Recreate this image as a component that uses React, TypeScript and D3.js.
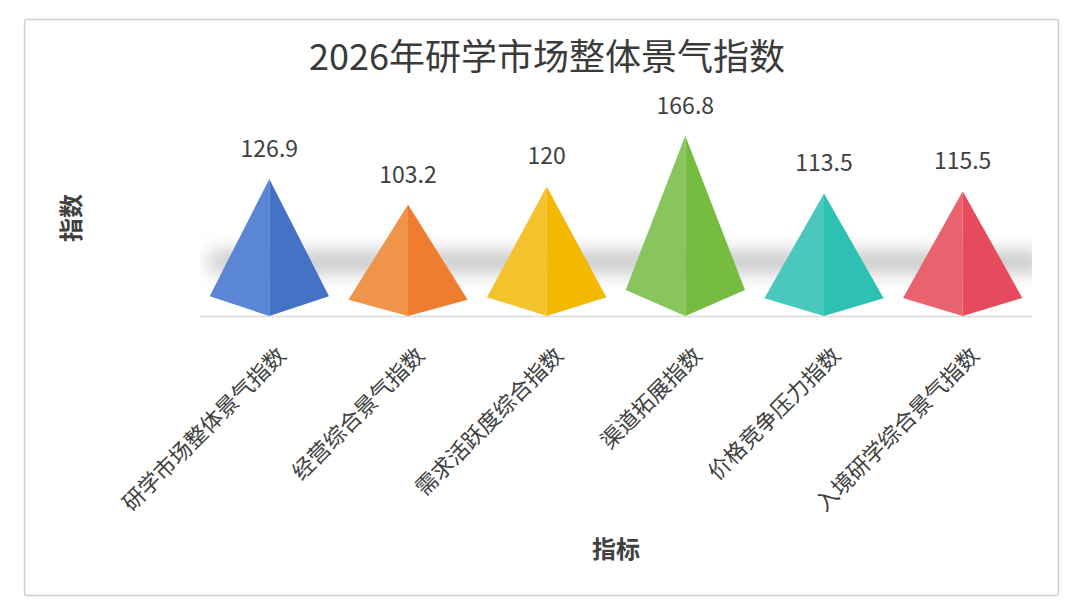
import React from 'react';
import * as d3 from 'd3';

const categories = ['研学市场整体景气指数', '经营综合景气指数', '需求活跃度综合指数', '渠道拓展指数', '价格竞争压力指数', '入境研学综合景气指数'];
const values = [126.9, 103.2, 120, 166.8, 113.5, 115.5];
const leftColors = ['#5b86d5', '#f09449', '#f4c22c', '#88c55c', '#4bc8be', '#e9636f'];
const rightColors = ['#4472c4', '#ee7d2f', '#f2b900', '#76bc41', '#2ec1b3', '#e64a5d'];

const W = 1080;
const H = 613;
const margin = { top: 100, right: 48, bottom: 297, left: 200 };
const baseY = H - margin.bottom;

const App = () => {
  const x = d3.scaleBand<string>()
    .domain(categories)
    .range([margin.left, W - margin.right])
    .paddingInner(0.14)
    .paddingOuter(0.07);

  const y = d3.scaleLinear()
    .domain([0, 200])
    .range([baseY, margin.top]);

  const font = '"Noto Sans CJK SC", "Noto Sans", sans-serif';

  return (
    <svg width={W} height={H} style={{ position: 'absolute', left: 0, top: 0, fontFamily: font }}>
      <defs>
        <filter id="blur" x="-20%" y="-300%" width="140%" height="700%">
          <feGaussianBlur stdDeviation="10" />
        </filter>
        <clipPath id="plotClip">
          <rect x={margin.left} y={0} width={W - margin.right - margin.left} height={baseY} />
        </clipPath>
      </defs>
      <rect x={0} y={0} width={W} height={H} fill="#fff" />
      <rect x={24.5} y={19.5} width={1034} height={576} fill="none" stroke="#cfcfcf" strokeWidth={1.5} rx={2} />

      {/* title */}
      <text x={547} y={70} textAnchor="middle" fontSize={36} fill="#3a3a3a">2026年研学市场整体景气指数</text>

      {/* shadow band */}
      <g clipPath="url(#plotClip)">
        <rect x={margin.left + 10} y={254} width={W - margin.right - margin.left} height={16} fill="#b4b4b4" filter="url(#blur)" />
      </g>

      {/* baseline */}
      <line x1={margin.left} x2={W - margin.right} y1={baseY + 0.5} y2={baseY + 0.5} stroke="#d9d9d9" strokeWidth={1.5} />

      {/* pyramids */}
      {categories.map((c, i) => {
        const cx = x(c)! + x.bandwidth() / 2;
        const half = x.bandwidth() / 2;
        const top = y(values[i]);
        const side = baseY - (baseY - top) * 0.145;
        return (
          <g key={c}>
            <path d={`M${cx},${top}L${cx - half},${side}L${cx},${baseY}Z`} fill={leftColors[i]} />
            <path d={`M${cx},${top}L${cx + half},${side}L${cx},${baseY}Z`} fill={rightColors[i]} />
            <text x={cx} y={top - 22} textAnchor="middle" fontSize={23} fill="#404040">{values[i]}</text>
          </g>
        );
      })}

      {/* x tick labels */}
      {categories.map(c => {
        const cx = x(c)! + x.bandwidth() / 2;
        return (
          <text key={c} transform={`translate(${cx + 18},${baseY + 41}) rotate(-45)`} textAnchor="end" fontSize={22} fill="#404040">{c}</text>
        );
      })}

      {/* axis titles */}
      <text x={(margin.left + W - margin.right) / 2} y={558} textAnchor="middle" fontSize={24} fontWeight="bold" fill="#404040">指标</text>
      <text transform={`translate(80,218) rotate(-90)`} textAnchor="middle" fontSize={24} fontWeight="bold" fill="#404040">指数</text>
    </svg>
  );
};

export default App;
